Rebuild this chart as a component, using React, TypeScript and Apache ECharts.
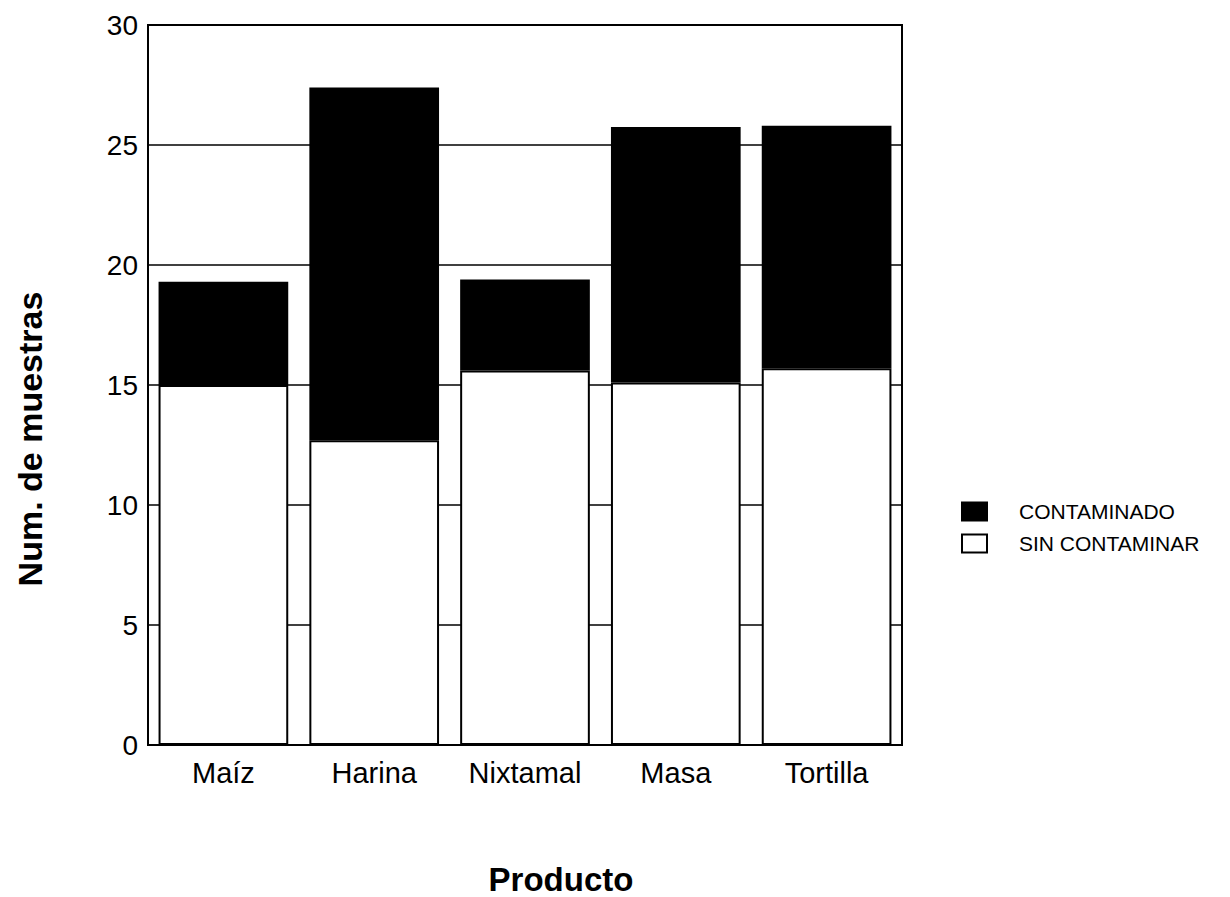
import React, { useEffect, useRef } from "react";
import * as echarts from "echarts";

const categories = ["Maíz", "Harina", "Nixtamal", "Masa", "Tortilla"];
const sinContaminar = [15, 12.7, 15.6, 15.1, 15.7];
const contaminado = [4.3, 14.7, 3.8, 10.65, 10.1];
const yTicks = [0, 5, 10, 15, 20, 25, 30];

const FONT = "'Liberation Sans', Arial, sans-serif";

export default function App() {
  const ref = useRef<HTMLDivElement>(null);
  useEffect(() => {
    if (!ref.current) return;
    const chart = echarts.init(ref.current, null, { renderer: "svg" });
    chart.setOption({
      animation: false,
      backgroundColor: "#ffffff",
      textStyle: { fontFamily: FONT },
      grid: {
        left: 140,
        right: 320,
        top: 17,
        bottom: 152,
        show: true,
        borderColor: "#000",
        borderWidth: 2,
        backgroundColor: "transparent",
      },
      legend: {
        orient: "vertical",
        left: 948,
        top: 488,
        icon: "rect",
        itemWidth: 25,
        itemHeight: 18,
        itemGap: 11,
        textStyle: { fontFamily: FONT, fontSize: 21, color: "#000", padding: [0, 0, 0, 27] },
        data: ["CONTAMINADO", "SIN CONTAMINAR"],
      },
      graphic: [
        {
          type: "text",
          x: 553,
          y: 871,
          style: {
            text: "Producto",
            fontFamily: FONT,
            fontSize: 33,
            fontWeight: "bold",
            fill: "#000",
            align: "center",
            verticalAlign: "middle",
          },
        },
        {
          type: "text",
          x: 22,
          y: 431,
          rotation: Math.PI / 2,
          style: {
            text: "Num. de muestras",
            fontFamily: FONT,
            fontSize: 34,
            fontWeight: "bold",
            fill: "#000",
            align: "center",
            verticalAlign: "middle",
          },
        },
      ],
      xAxis: {
        type: "category",
        data: categories,
        axisLine: { lineStyle: { color: "#000", width: 2 } },
        axisTick: { show: false },
        axisLabel: { fontFamily: FONT, fontSize: 29, color: "#000", margin: 13 },
      },
      yAxis: {
        type: "value",
        min: 0,
        max: 30,
        interval: 5,
        axisLine: { show: true, lineStyle: { color: "#000", width: 2 } },
        axisTick: { show: false },
        axisLabel: {
          fontFamily: FONT,
          fontSize: 28,
          color: "#000",
          margin: 10,
          formatter: (v: number) => (yTicks.includes(v) ? String(v) : ""),
        },
        splitLine: { show: true, lineStyle: { color: "#000", width: 1.5 } },
      },
      series: [
        {
          name: "SIN CONTAMINAR",
          type: "bar",
          stack: "total",
          data: sinContaminar,
          barCategoryGap: "14%",
          itemStyle: { color: "#ffffff", borderColor: "#000", borderWidth: 2 },
        },
        {
          name: "CONTAMINADO",
          type: "bar",
          stack: "total",
          data: contaminado,
          itemStyle: { color: "#000000", borderColor: "#000", borderWidth: 2 },
        },
      ],
    });
    return () => chart.dispose();
  }, []);
  return <div ref={ref} style={{ width: 1214, height: 889 }} />;
}
